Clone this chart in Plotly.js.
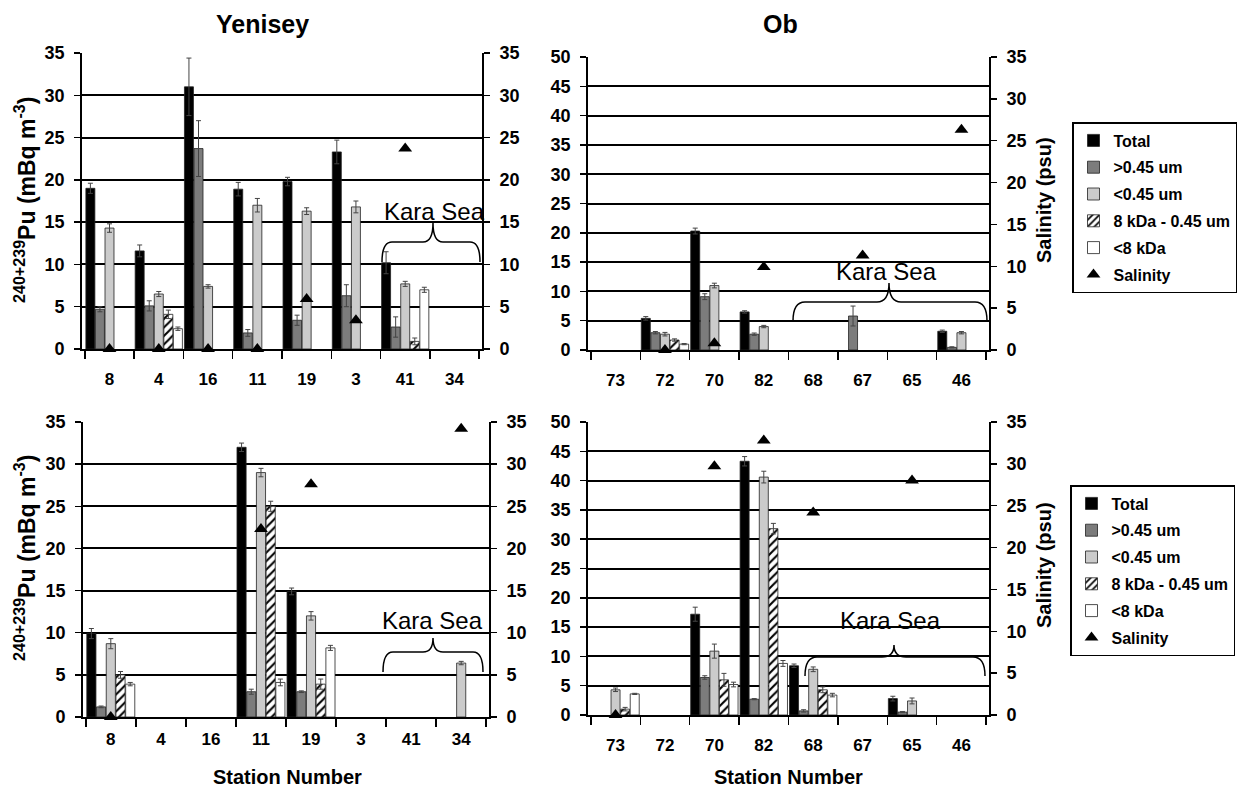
<!DOCTYPE html>
<html>
<head>
<meta charset="utf-8">
<script src="https://cdn.plot.ly/plotly-3.0.1.min.js"></script>
<style>html,body{margin:0;padding:0;background:#fff;}#chart{width:1242px;height:788px;}</style>
</head>
<body>
<div id="chart"></div>
<script>
// ---------------- DATA ----------------
const yenStations = ['8','4','16','11','19','3','41','34'];
const obStations  = ['73','72','70','82','68','67','65','46'];
const seriesNames = ['Total','&gt;0.45 um','&lt;0.45 um','8 kDa - 0.45 um','&lt;8 kDa'];
const salinityName = 'Salinity';

// Yenisey (top)
const yenTopTotal     = [19.0, 11.6, 31.0, 18.9, 19.8, 23.3, 10.2, null];
const yenTopTotalErr  = [0.6, 0.7, 3.4, 0.8, 0.5, 1.4, 1.3, null];
const yenTopGt        = [4.7, 5.1, 23.7, 1.9, 3.4, 6.3, 2.6, null];
const yenTopGtErr     = [0.3, 0.6, 3.3, 0.4, 0.6, 1.3, 1.2, null];
const yenTopLt        = [14.3, 6.5, 7.4, 17.0, 16.3, 16.8, 7.7, null];
const yenTopLtErr     = [0.5, 0.3, 0.2, 0.8, 0.4, 0.7, 0.3, null];
const yenTopKda       = [null, 4.1, null, null, null, null, 0.9, null];
const yenTopKdaErr    = [null, 0.5, null, null, null, null, 0.4, null];
const yenTopSmall     = [null, 2.4, null, null, null, null, 7.0, null];
const yenTopSmallErr  = [null, 0.2, null, null, null, null, 0.3, null];
const yenTopSal       = [0, 0, 0, 0, 5.9, 3.4, 23.7, null];

// Ob (top)
const obTopTotal      = [null, 5.4, 20.3, 6.5, null, null, null, 3.2];
const obTopTotalErr   = [null, 0.3, 0.5, 0.2, null, null, null, 0.2];
const obTopGt         = [null, 2.95, 9.1, 2.7, null, 5.8, null, 0.45];
const obTopGtErr      = [null, 0.2, 0.5, 0.2, null, 1.7, null, 0.1];
const obTopLt         = [null, 2.7, 11.0, 4.0, null, null, null, 2.95];
const obTopLtErr      = [null, 0.3, 0.4, 0.2, null, null, null, 0.2];
const obTopKda        = [null, 1.7, null, null, null, null, null, null];
const obTopKdaErr     = [null, 0.2, null, null, null, null, null, null];
const obTopSmall      = [null, 1.0, null, null, null, null, null, null];
const obTopSmallErr   = [null, 0.1, null, null, null, null, null, null];
const obTopSal        = [null, 0, 0.8, 9.9, null, 11.3, null, 26.3];

// Yenisey (bottom)
const yenBotTotal     = [9.9, null, null, 32.0, 14.9, null, null, null];
const yenBotTotalErr  = [0.6, null, null, 0.5, 0.4, null, null, null];
const yenBotGt        = [1.2, null, null, 3.0, 3.0, null, null, null];
const yenBotGtErr     = [0.1, null, null, 0.3, 0.1, null, null, null];
const yenBotLt        = [8.7, null, null, 29.0, 12.0, null, null, 6.4];
const yenBotLtErr     = [0.6, null, null, 0.5, 0.5, null, null, 0.2];
const yenBotKda       = [5.0, null, null, 25.0, 3.9, null, null, null];
const yenBotKdaErr    = [0.4, null, null, 0.6, 0.6, null, null, null];
const yenBotSmall     = [3.9, null, null, 4.1, 8.2, null, null, null];
const yenBotSmallErr  = [0.2, null, null, 0.4, 0.3, null, null, null];
const yenBotSal       = [0, null, null, 22.3, 27.6, null, null, 34.2];

// Ob (bottom)
const obBotTotal      = [null, null, 17.2, 43.3, 8.4, null, 2.8, null];
const obBotTotalErr   = [null, null, 1.2, 0.8, 0.3, null, 0.4, null];
const obBotGt         = [null, null, 6.4, 2.7, 0.7, null, 0.5, null];
const obBotGtErr      = [null, null, 0.3, 0.1, 0.2, null, 0.1, null];
const obBotLt         = [4.3, null, 10.9, 40.6, 7.8, null, 2.4, null];
const obBotLtErr      = [0.3, null, 1.2, 1.0, 0.4, null, 0.5, null];
const obBotKda        = [1.0, null, 6.0, 31.8, 4.3, null, null, null];
const obBotKdaErr     = [0.3, null, 1.1, 0.9, 0.5, null, null, null];
const obBotSmall      = [3.6, null, 5.2, 8.8, 3.4, null, null, null];
const obBotSmallErr   = [0.1, null, 0.4, 0.5, 0.3, null, null, null];
const obBotSal        = [0, null, 29.7, 32.8, 24.2, null, 28.0, null];

// ---------------- STYLE ----------------
const FONT = 'Liberation Sans, Arial, sans-serif';
const W = 1242, H = 788;
const px = v => v / W;
const py = v => 1 - v / H;

const barStyles = [
  {color:'#000000'},
  {color:'#7c7c7c'},
  {color:'#cbcbcb'},
  {color:'#ffffff', pattern:{shape:'/', fgcolor:'#000', bgcolor:'#fff', size:6, solidity:0.35}},
  {color:'#ffffff'}
];

const traces = [];
function addPanel(xa, ya, ya2, stations, vals, errs, sal, legendId) {
  for (let i = 0; i < 5; i++) {
    const m = {color: barStyles[i].color, line:{color:'#222', width:0.8}};
    if (barStyles[i].pattern) m.pattern = barStyles[i].pattern;
    traces.push({
      type:'bar', x: stations, y: vals[i], xaxis: xa, yaxis: ya,
      name: seriesNames[i], marker: m,
      error_y: {type:'data', array: errs[i], visible:true, color:'#444', thickness:1, width:2.5},
      showlegend: !!legendId, legend: legendId || 'legend',
      legendgroup: 'g' + i, hoverinfo:'skip'
    });
  }
  traces.push({
    type:'scatter', mode:'markers', x: stations, y: sal, xaxis: xa, yaxis: ya2,
    name: salinityName, marker:{symbol:'triangle-up', size:12, color:'#000'},
    showlegend: !!legendId, legend: legendId || 'legend',
    legendgroup: 'g5', hoverinfo:'skip', cliponaxis:false
  });
}

addPanel('x','y','y2', yenStations,
  [yenTopTotal, yenTopGt, yenTopLt, yenTopKda, yenTopSmall],
  [yenTopTotalErr, yenTopGtErr, yenTopLtErr, yenTopKdaErr, yenTopSmallErr], yenTopSal, null);
addPanel('x2','y3','y4', obStations,
  [obTopTotal, obTopGt, obTopLt, obTopKda, obTopSmall],
  [obTopTotalErr, obTopGtErr, obTopLtErr, obTopKdaErr, obTopSmallErr], obTopSal, 'legend');
addPanel('x3','y5','y6', yenStations,
  [yenBotTotal, yenBotGt, yenBotLt, yenBotKda, yenBotSmall],
  [yenBotTotalErr, yenBotGtErr, yenBotLtErr, yenBotKdaErr, yenBotSmallErr], yenBotSal, null);
addPanel('x4','y7','y8', obStations,
  [obBotTotal, obBotGt, obBotLt, obBotKda, obBotSmall],
  [obBotTotalErr, obBotGtErr, obBotLtErr, obBotKdaErr, obBotSmallErr], obBotSal, 'legend2');

const xTickFont = {family: FONT, size: 17, color:'#000', weight:'bold'};
const yTickFont = {family: FONT, size: 18, color:'#000', weight:'bold'};
function xAxis(domain, anchor, standoff) {
  return {domain, anchor, type:'category', tickson:'boundaries', ticks:'outside', ticklen:8,
    tickcolor:'#000', tickwidth:1.5, showline:true, linecolor:'#000', linewidth:1.5,
    showgrid:false, zeroline:false, tickfont: xTickFont, ticklabelstandoff: standoff, fixedrange:true};
}
function yAxis(domain, anchor, max) {
  return {domain, anchor, range:[0,max], dtick:5, tick0:0, ticks:'outside', ticklen:6,
    tickcolor:'#000', tickwidth:1.5, showline:true, linecolor:'#000', linewidth:1.8,
    showgrid: true, gridcolor:'#000', gridwidth:2, zeroline:false, tickfont: yTickFont,
    ticklabelstandoff: 6, fixedrange:true};
}
function y2Axis(over, anchor) {
  return {overlaying: over, side:'right', anchor, range:[0,35], dtick:5, tick0:0, ticks:'outside',
    ticklen:6, tickcolor:'#000', tickwidth:1.5, showline:true, linecolor:'#000', linewidth:1.8,
    showgrid:false, zeroline:false, tickfont: yTickFont, ticklabelstandoff: 6, fixedrange:true};
}

const dTL = {x:[px(82), px(482)], y:[py(349), py(53)]};
const dTR = {x:[px(588), px(989)], y:[py(350), py(57)]};
const dBL = {x:[px(83), px(489)], y:[py(717), py(422)]};
const dBR = {x:[px(588), px(989)], y:[py(715), py(422)]};

function brace(x0, x1, xc, yb, yh, yp, r) {
  const P = (x, y) => px(x) + ',' + py(y);
  return 'M' + P(x0, yb) + ' Q' + P(x0, yh) + ' ' + P(x0 + r, yh) +
    ' L' + P(xc - r, yh) + ' Q' + P(xc, yh) + ' ' + P(xc, yp) +
    ' Q' + P(xc, yh) + ' ' + P(xc + r, yh) +
    ' L' + P(x1 - r, yh) + ' Q' + P(x1, yh) + ' ' + P(x1, yb);
}
const braceLine = {color:'#000', width:1.5};
const shapes = [
  {type:'path', xref:'paper', yref:'paper', path: brace(382, 480, 433, 262, 242, 223, 10), line: braceLine},
  {type:'path', xref:'paper', yref:'paper', path: brace(793, 987, 889, 321, 302, 283, 12), line: braceLine},
  {type:'path', xref:'paper', yref:'paper', path: brace(383, 483, 433, 672, 652, 638, 10), line: braceLine},
  {type:'path', xref:'paper', yref:'paper', path: brace(805, 985, 894, 676, 657, 645, 12), line: braceLine}
];

const ann = (text, x, y, size, opts) => Object.assign({
  text, xref:'paper', yref:'paper', x: px(x), y: py(y), xanchor:'center', yanchor:'middle',
  showarrow:false, font:{family: FONT, size, color:'#000', weight:'bold'}
}, opts || {});
const yTitle = '<sup>240+239</sup>Pu (mBq m<sup>-3</sup>)';
const karaFont = {family: FONT, size: 24, color:'#000', weight:'normal'};
const annotations = [
  ann('Yenisey', 262, 24, 25),
  ann('Ob', 780, 24, 25),
  ann(yTitle, 25, 200, 23, {textangle:-90}),
  ann(yTitle, 25, 558, 23, {textangle:-90}),
  ann('Salinity (psu)', 1044, 200, 20, {textangle:-90}),
  ann('Salinity (psu)', 1044, 565, 20, {textangle:-90}),
  ann('Station Number', 287, 777, 20),
  ann('Station Number', 788, 777, 20),
  ann('Kara Sea', 434, 211, 24, {font: karaFont}),
  ann('Kara Sea', 887, 272, 24, {font: karaFont}),
  ann('Kara Sea', 432, 620, 24, {font: karaFont}),
  ann('Kara Sea', 890, 620, 24, {font: karaFont})
];

const legendStyle = (x, y) => ({
  x: px(x), y: py(y), xanchor:'left', yanchor:'top', bgcolor:'#fff', bordercolor:'#000',
  borderwidth:1.5, font:{family: FONT, size:16, color:'#000', weight:'bold'},
  tracegroupgap:3, itemwidth:30, traceorder:'grouped'
});

const layout = {
  width: W, height: H, margin:{l:0, r:0, t:0, b:0},
  paper_bgcolor:'#fff', plot_bgcolor:'rgba(0,0,0,0)',
  barmode:'group', bargap:0.03, bargroupgap:0.06,
  hovermode:false, showlegend:true,
  xaxis: xAxis(dTL.x, 'y', 14),  yaxis: yAxis(dTL.y, 'x', 35),  yaxis2: y2Axis('y', 'x'),
  xaxis2: xAxis(dTR.x, 'y3', 14), yaxis3: yAxis(dTR.y, 'x2', 50), yaxis4: y2Axis('y3', 'x2'),
  xaxis3: xAxis(dBL.x, 'y5', 6), yaxis5: yAxis(dBL.y, 'x3', 35), yaxis6: y2Axis('y5', 'x3'),
  xaxis4: xAxis(dBR.x, 'y7', 14), yaxis7: yAxis(dBR.y, 'x4', 50), yaxis8: y2Axis('y7', 'x4'),
  legend: legendStyle(1072, 122),
  legend2: legendStyle(1070, 485),
  shapes, annotations
};

Plotly.newPlot('chart', traces, layout, {staticPlot:true, displayModeBar:false});
</script>
</body>
</html>
